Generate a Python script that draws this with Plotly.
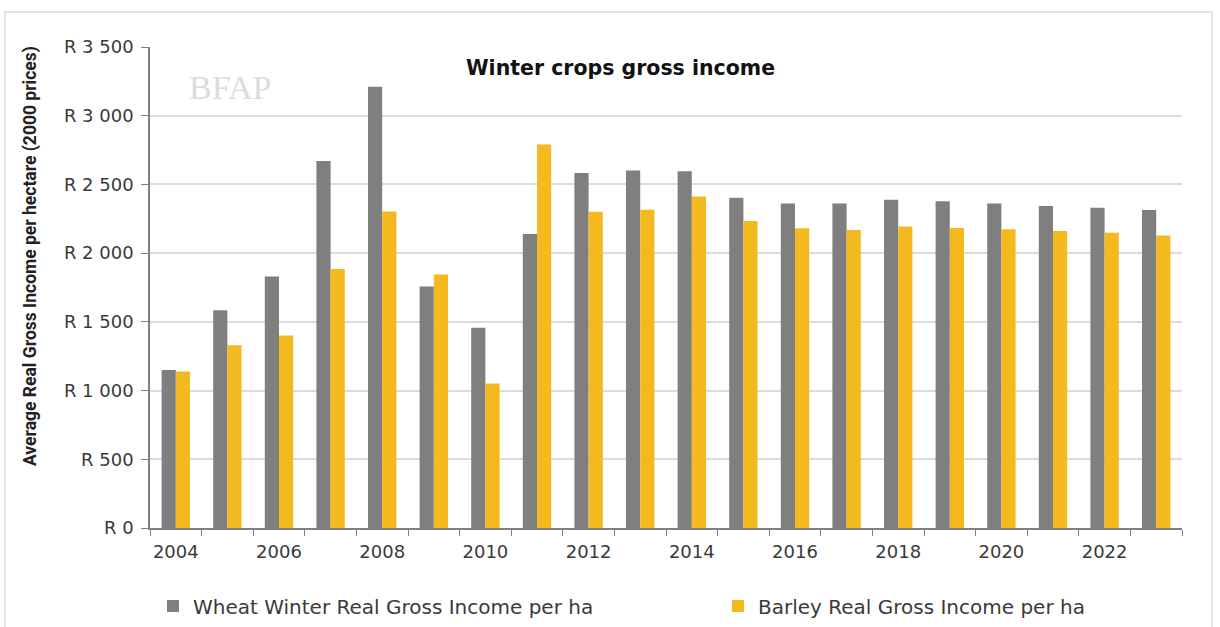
import plotly.graph_objects as go

years = [str(y) for y in range(2004, 2024)]
wheat = [1150, 1585, 1830, 2670, 3210, 1757, 1458, 2139, 2584, 2601,
         2596, 2403, 2362, 2362, 2389, 2377, 2362, 2343, 2331, 2314]
barley = [1138, 1330, 1400, 1885, 2303, 1844, 1052, 2790, 2301, 2316,
          2413, 2234, 2182, 2168, 2193, 2183, 2174, 2162, 2148, 2128]
y_ticks = [0, 500, 1000, 1500, 2000, 2500, 3000, 3500]
y_labels = ["R 0", "R 500", "R 1 000", "R 1 500", "R 2 000", "R 2 500", "R 3 000", "R 3 500"]
x_labels = [y if int(y) % 2 == 0 else "" for y in years]

WHEAT_C = "#7f7f7f"
BARLEY_C = "#f4b91f"
TXT = "#3a3a3a"
FONT = "DejaVu Sans, sans-serif"

L, R, T, B = 150, 38, 47, 99
W, H = 1220, 627
pw, ph = W - L - R, H - T - B

def px_x(x):
    return (x - L) / pw

def px_y(y):
    return (H - B - y) / ph

fig = go.Figure()
fig.add_trace(go.Bar(x=years, y=wheat, name="Wheat Winter Real Gross Income per ha",
                     marker=dict(color=WHEAT_C, line=dict(width=0)), legend="legend"))
fig.add_trace(go.Bar(x=years, y=barley, name="Barley Real Gross Income per ha",
                     marker=dict(color=BARLEY_C, line=dict(width=0)), legend="legend2"))

leg_common = dict(orientation="h", yanchor="middle", xanchor="left",
                  font=dict(size=20, color=TXT, family=FONT), bgcolor="rgba(0,0,0,0)")

fig.update_layout(
    width=W, height=H,
    margin=dict(l=L, r=R, t=T, b=B, autoexpand=False),
    paper_bgcolor="white", plot_bgcolor="white",
    barmode="group", bargap=0.45, bargroupgap=0,
    font=dict(family=FONT, color=TXT, size=18),
    showlegend=True,
    legend=dict(x=px_x(153), y=px_y(606), **leg_common),
    legend2=dict(x=px_x(718), y=px_y(606), **leg_common),
    xaxis=dict(type="category", tickmode="array", tickvals=years, ticktext=x_labels,
               tickson="boundaries", ticks="outside", ticklen=6, tickcolor="#808080",
               showline=True, linecolor="#808080", linewidth=1.5, showgrid=False,
               ticklabelstandoff=7, tickangle=0,
               tickfont=dict(size=18, color=TXT, family=FONT)),
    yaxis=dict(range=[0, 3500], tickmode="array", tickvals=y_ticks, ticktext=y_labels,
               ticks="outside", ticklen=7, tickcolor="#808080",
               showline=True, linecolor="#808080", linewidth=1.5,
               showgrid=True, gridcolor="#dcdcdc", gridwidth=1.5,
               ticklabelstandoff=4,
               tickfont=dict(size=18, color=TXT, family=FONT), zeroline=False),
    shapes=[dict(type="rect", xref="paper", yref="paper",
                 x0=px_x(5), x1=px_x(1212), y0=px_y(628), y1=px_y(12),
                 line=dict(color="#cfe2c8", width=1.5), fillcolor="rgba(0,0,0,0)", layer="below")],
    annotations=[
        dict(text="<b>Winter crops gross income</b>", xref="paper", yref="paper",
             x=px_x(620), y=px_y(68), showarrow=False, xanchor="center", yanchor="middle",
             font=dict(size=20.5, color="#111111", family=FONT)),
        dict(text="<b>Average Real Gross Income per hectare (2000 prices)</b>", xref="paper", yref="paper",
             x=px_x(31), y=px_y(256), showarrow=False, textangle=-90,
             xanchor="center", yanchor="middle",
             font=dict(size=17.5, color="#222222", family="Liberation Sans Narrow, Roboto, sans-serif")),
        dict(text="BFAP", xref="paper", yref="paper", x=px_x(230), y=px_y(88),
             showarrow=False, xanchor="center", yanchor="middle",
             font=dict(size=34, color="rgba(190,190,190,0.55)", family="Liberation Serif, serif")),
    ],
)

fig.write_html("out.html", config={"displayModeBar": False},
               post_script="document.body.style.margin='0px';")
